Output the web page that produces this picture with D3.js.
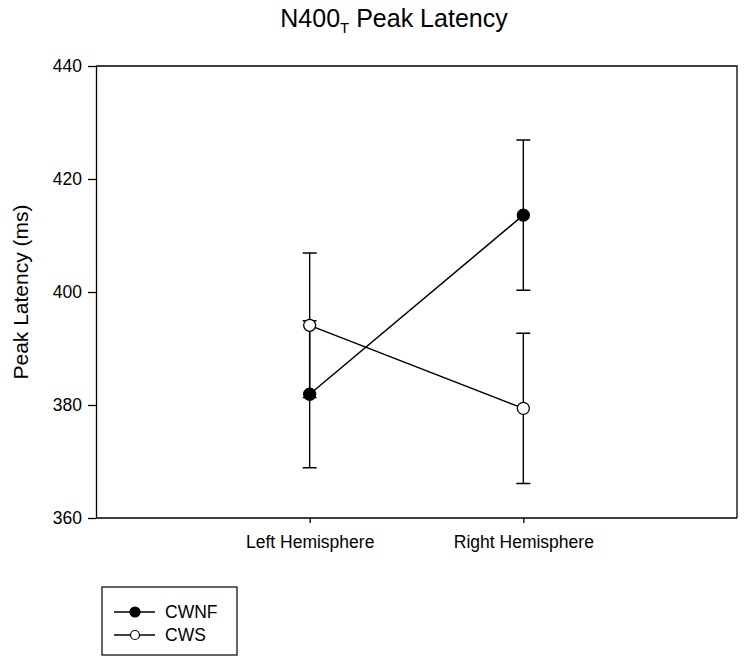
<!DOCTYPE html>
<html>
<head>
<meta charset="utf-8">
<script src="https://cdn.jsdelivr.net/npm/d3@7"></script>
<style>
  body { margin: 0; background: #fff; }
  svg { font-family: "Liberation Sans", Arial, sans-serif; }
  .axis path, .axis line { stroke: #000; stroke-width: 1.3; }
  .axis text { font-size: 17.5px; fill: #000; }
</style>
</head>
<body>
<div id="chart"></div>
<script>
// data
var categories = ["Left Hemisphere", "Right Hemisphere"];
var seriesNames = ["CWNF", "CWS"];
var cwnfMeans = [381.9, 413.6];
var cwnfErrors = [13.0, 13.3];
var cwsMeans = [394.1, 379.4];
var cwsErrors = [12.8, 13.3];
var yTicks = [360, 380, 400, 420, 440];

var series = [
  {name: seriesNames[0], means: cwnfMeans, errors: cwnfErrors, fill: "#000"},
  {name: seriesNames[1], means: cwsMeans, errors: cwsErrors, fill: "#fff"}
];

var fullWidth = 750, fullHeight = 667;
var margin = {top: 66, right: 13, bottom: 149, left: 96},
  width = fullWidth - margin.left - margin.right,
  height = fullHeight - margin.top - margin.bottom;

var svg = d3.select("#chart").append("svg")
  .attr("width", fullWidth)
  .attr("height", fullHeight);

var g = svg.append("g")
  .attr("transform", "translate(" + margin.left + "," + margin.top + ")");

var xScale = d3.scalePoint()
  .domain(categories)
  .range([0, width])
  .padding(1);

var yScale = d3.scaleLinear()
  .domain([360, 440])
  .range([height, 0]);

// frame (top and right)
g.append("path")
  .attr("d", "M0,0H" + width + "V" + height)
  .attr("fill", "none")
  .attr("stroke", "#000")
  .attr("stroke-width", 1.3);

// y axis
g.append("g")
  .attr("class", "axis")
  .call(d3.axisLeft(yScale).tickValues(yTicks).tickSize(8).tickSizeOuter(0).tickPadding(6));

// x axis
g.append("g")
  .attr("class", "axis")
  .attr("transform", "translate(0," + height + ")")
  .call(d3.axisBottom(xScale).tickSize(5).tickSizeOuter(0).tickPadding(13))
  .select(".domain")
  .attr("d", "M0,0H" + width);

// title
var title = svg.append("text")
  .attr("x", 394)
  .attr("y", 27)
  .attr("text-anchor", "middle")
  .style("font-size", "25px");
title.append("tspan").text("N400");
title.append("tspan").attr("dy", 6).style("font-size", "15px").text("T");
title.append("tspan").attr("dy", -6).text(" Peak Latency");

// y label
svg.append("text")
  .attr("transform", "translate(28," + (margin.top + height / 2) + ") rotate(-90)")
  .attr("text-anchor", "middle")
  .style("font-size", "21px")
  .text("Peak Latency (ms)");

var line = function (s) {
  return d3.line()
    .x(function (d, i) { return xScale(categories[i]); })
    .y(function (d) { return yScale(d); })(s.means);
};

series.forEach(function (s) {
  g.append("path")
    .attr("d", line(s))
    .attr("fill", "none")
    .attr("stroke", "#000")
    .attr("stroke-width", 1.5);
});

// error bars
var capHalf = 7;
series.forEach(function (s) {
  categories.forEach(function (c, i) {
    var x = xScale(c),
      lo = yScale(s.means[i] - s.errors[i]),
      hi = yScale(s.means[i] + s.errors[i]);
    g.append("path")
      .attr("d", "M" + x + "," + lo + "V" + hi +
        "M" + (x - capHalf) + "," + hi + "H" + (x + capHalf) +
        "M" + (x - capHalf) + "," + lo + "H" + (x + capHalf))
      .attr("fill", "none")
      .attr("stroke", "#000")
      .attr("stroke-width", 1.4);
  });
});

// points
series.forEach(function (s) {
  g.selectAll(null)
    .data(s.means)
    .enter()
    .append("circle")
    .attr("cx", function (d, i) { return xScale(categories[i]); })
    .attr("cy", function (d) { return yScale(d); })
    .attr("r", 6)
    .attr("fill", s.fill)
    .attr("stroke", "#000")
    .attr("stroke-width", 1.3);
});

// legend
var legend = svg.append("g")
  .attr("transform", "translate(102,587)");

legend.append("rect")
  .attr("width", 135)
  .attr("height", 68)
  .attr("fill", "#fff")
  .attr("stroke", "#000")
  .attr("stroke-width", 1.2);

var items = legend.selectAll(".legend")
  .data(series)
  .enter()
  .append("g")
  .attr("class", "legend")
  .attr("transform", function (d, i) { return "translate(0," + (25 + i * 23) + ")"; });

items.append("line")
  .attr("x1", 12).attr("x2", 53)
  .attr("stroke", "#000")
  .attr("stroke-width", 1.4);

items.append("circle")
  .attr("cx", 33)
  .attr("r", function (d, i) { return i === 0 ? 5 : 4.5; })
  .attr("fill", function (d) { return d.fill; })
  .attr("stroke", "#000")
  .attr("stroke-width", 1.2);

items.append("text")
  .attr("x", 63)
  .attr("dy", "0.36em")
  .style("font-size", "17.5px")
  .text(function (d) { return d.name; });
</script>
</body>
</html>
